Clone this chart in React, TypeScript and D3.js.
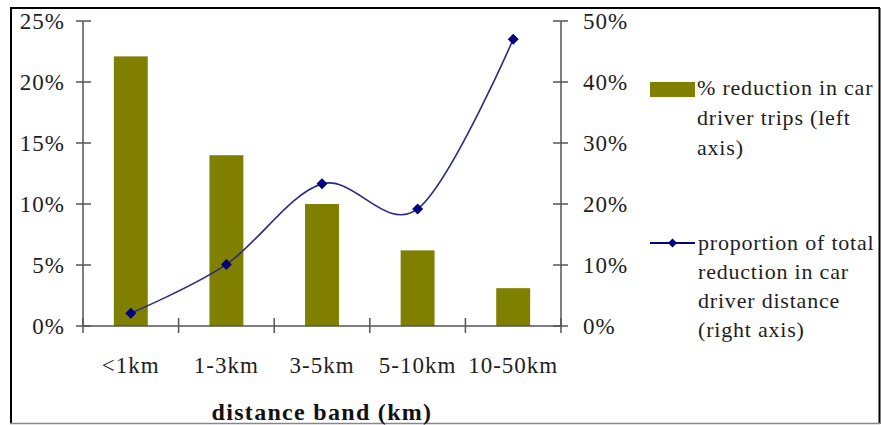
import React from "react";
import * as d3 from "d3";

const categories = ["<1km", "1-3km", "3-5km", "5-10km", "10-50km"];
const tripReduction = [0.221, 0.14, 0.1, 0.062, 0.031];
const distanceShare = [0.021, 0.101, 0.233, 0.192, 0.47];
const leftTicks = [0, 0.05, 0.1, 0.15, 0.2, 0.25];
const rightTicks = [0, 0.1, 0.2, 0.3, 0.4, 0.5];
const barLegendLines = ["% reduction in car", "driver trips (left", "axis)"];
const lineLegendLines = ["proportion of total", "reduction in car", "driver distance", "(right axis)"];
const xTitle = "distance band (km)";

const W = 881;
const H = 425;
const FONT = "Liberation Serif";
const BAR = "#808000";
const NAVY = "#000080";
const LINE = "#2b2b82";
const AXIS = "#555555";
const TEXT = "#1e1e1e";

export default function App() {
  const plotLeft = 83;
  const plotRight = 561;
  const y0 = 326;
  const yTop = 21;

  const x = d3.scaleBand<string>().domain(categories).range([plotLeft, plotRight]).padding(0);
  const yL = d3.scaleLinear().domain([0, 0.25]).range([y0, yTop]);
  const yR = d3.scaleLinear().domain([0, 0.5]).range([y0, yTop]);
  const bw = x.bandwidth() * 0.355;
  const cx = (c: string) => (x(c) as number) + x.bandwidth() / 2;

  const lineGen = d3
    .line<number>()
    .x((_, i) => cx(categories[i]))
    .y((d) => yR(d))
    .curve(d3.curveCardinal.tension(0));

  const diamond = (px: number, py: number, r = 5.5) =>
    `M${px},${py - r}L${px + r},${py}L${px},${py + r}L${px - r},${py}Z`;

  const bandEdges = [...categories.map((c) => x(c) as number), plotRight];
  const ts = (size: number, ls: number, weight: string = "normal") => ({
    fontFamily: FONT,
    fontSize: size + "px",
    letterSpacing: ls + "px",
    fontWeight: weight as any,
  });

  return (
    <svg
      width={W}
      height={H}
      style={{ position: "absolute", left: 0, top: 0, background: "#fff" }}
    >
      <rect x={0} y={0} width={W} height={H} fill="#fff" />
      {/* frame */}
      <line x1={11} y1={8} x2={11} y2={424} stroke="#000" strokeWidth={2} />
      <line x1={10} y1={8} x2={880} y2={8} stroke="#000" strokeWidth={2} />
      <line x1={879.5} y1={8} x2={879.5} y2={424} stroke="#000" strokeWidth={2} />
      <line x1={10} y1={423.5} x2={880} y2={423.5} stroke="#888" strokeWidth={1.5} />

      {/* bars */}
      {categories.map((c, i) => (
        <rect
          key={c}
          x={cx(c) - bw / 2}
          y={yL(tripReduction[i])}
          width={bw}
          height={y0 - yL(tripReduction[i])}
          fill={BAR}
        />
      ))}

      {/* axes */}
      <line x1={plotLeft} y1={yTop} x2={plotLeft} y2={y0} stroke={AXIS} strokeWidth={1.5} />
      <line x1={plotRight} y1={yTop} x2={plotRight} y2={y0} stroke={AXIS} strokeWidth={1.5} />
      <line x1={plotLeft} y1={y0} x2={plotRight} y2={y0} stroke={AXIS} strokeWidth={1.5} />
      {leftTicks.map((t) => (
        <g key={"l" + t}>
          <line x1={plotLeft - 7} x2={plotLeft + 8} y1={yL(t)} y2={yL(t)} stroke={AXIS} strokeWidth={1.5} />
          <text x={65} y={yL(t) + 8} textAnchor="end" fill={TEXT} style={ts(23, 1)}>
            {d3.format(".0%")(t)}
          </text>
        </g>
      ))}
      {rightTicks.map((t) => (
        <g key={"r" + t}>
          <line x1={plotRight - 8} x2={plotRight + 7} y1={yR(t)} y2={yR(t)} stroke={AXIS} strokeWidth={1.5} />
          <text x={583} y={yR(t) + 8} textAnchor="start" fill={TEXT} style={ts(23, 1)}>
            {d3.format(".0%")(t)}
          </text>
        </g>
      ))}
      {bandEdges.map((e, i) => (
        <line key={"xt" + i} x1={e} x2={e} y1={y0 - 8} y2={y0 + 7} stroke={AXIS} strokeWidth={1.5} />
      ))}
      {categories.map((c) => (
        <text key={"xl" + c} x={cx(c)} y={373} textAnchor="middle" fill={TEXT} style={ts(23, 1)}>
          {c}
        </text>
      ))}
      <text x={322} y={420} textAnchor="middle" fill="#111" style={ts(24, 1.3, "bold")}>
        {xTitle}
      </text>

      {/* line series */}
      <path d={lineGen(distanceShare) || ""} fill="none" stroke={LINE} strokeWidth={1.6} />
      {distanceShare.map((v, i) => (
        <path key={"m" + i} d={diamond(cx(categories[i]), yR(v))} fill={NAVY} />
      ))}

      {/* legend */}
      <rect x={650} y={82} width={45} height={15} fill={BAR} />
      {barLegendLines.map((s, i) => (
        <text key={"bl" + i} x={697} y={95 + i * 30} fill={TEXT} style={ts(22, 0.8)}>
          {s}
        </text>
      ))}
      <line x1={650} x2={695} y1={243} y2={243} stroke={NAVY} strokeWidth={1.8} />
      <path d={diamond(672.5, 243, 4.5)} fill={NAVY} />
      {lineLegendLines.map((s, i) => (
        <text key={"ll" + i} x={698} y={250 + i * 29} fill={TEXT} style={ts(22, 0.8)}>
          {s}
        </text>
      ))}
    </svg>
  );
}
